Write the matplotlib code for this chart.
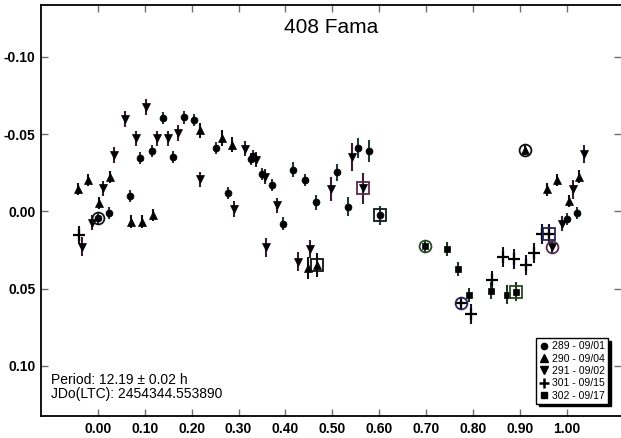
import matplotlib
matplotlib.use("Agg")
import matplotlib.pyplot as plt
from matplotlib.lines import Line2D

plt.rcParams['font.family'] = ['Liberation Sans', 'DejaVu Sans']

title = "408 Fama"
period_text = "Period: 12.19 \u00b1 0.02 h"
epoch_text = "JDo(LTC): 2454344.553890"

x_ticks = [0.0, 0.1, 0.2, 0.3, 0.4, 0.5, 0.6, 0.7, 0.8, 0.9, 1.0]
y_ticks = [-0.10, -0.05, 0.00, 0.05, 0.10]

session_labels = ["289 - 09/01", "290 - 09/04", "291 - 09/02", "301 - 09/15", "302 - 09/17"]

# session 289 (dots)
phase_289 = [0.000, 0.023, 0.068, 0.091, 0.115, 0.138, 0.160, 0.184, 0.206, 0.252,
             0.277, 0.327, 0.331, 0.349, 0.371, 0.395, 0.417, 0.442, 0.464, 0.510,
             0.534, 0.555, 0.579, 0.601, 0.999, 1.022]
mag_289 = [0.0045, 0.0013, -0.0099, -0.0343, -0.0392, -0.0602, -0.0350, -0.0608, -0.0591, -0.0408,
           -0.0120, -0.0339, -0.0358, -0.0241, -0.0170, 0.0080, -0.0270, -0.0203, -0.0058, -0.0252,
           -0.0030, -0.0412, -0.0392, 0.0027, 0.0052, 0.0011]
err_289 = [0.004, 0.004, 0.004, 0.004, 0.004, 0.004, 0.004, 0.004, 0.004, 0.004,
           0.004, 0.004, 0.004, 0.004, 0.004, 0.004, 0.005, 0.004, 0.005, 0.0055,
           0.006, 0.0065, 0.007, 0.006, 0.004, 0.004]

# session 290 (up triangles)
phase_290 = [-0.043, -0.021, 0.003, 0.026, 0.071, 0.094, 0.118, 0.217, 0.264, 0.286,
             0.447, 0.468, 0.911, 0.957, 0.979, 1.004, 1.026]
mag_290 = [-0.0144, -0.0203, -0.0052, -0.0220, 0.0067, 0.0067, 0.0024, -0.0524, -0.0474, -0.0431,
           0.0369, 0.0348, -0.0397, -0.0142, -0.0203, -0.0067, -0.0224]
err_290 = [0.004, 0.004, 0.004, 0.004, 0.004, 0.004, 0.004, 0.005, 0.005, 0.005,
           0.007, 0.008, 0.003, 0.004, 0.004, 0.004, 0.004]

# session 291 (down triangles)
phase_291 = [-0.034, -0.013, 0.012, 0.035, 0.057, 0.082, 0.103, 0.126, 0.150, 0.172,
             0.218, 0.291, 0.313, 0.337, 0.357, 0.381, 0.359, 0.427, 0.452, 0.497,
             0.542, 0.565, 0.968, 0.990, 1.013, 1.036]
mag_291 = [0.0229, 0.0074, -0.0148, -0.0364, -0.0597, -0.0472, -0.0675, -0.0472, -0.0472, -0.0507,
           -0.0207, -0.0015, -0.0405, -0.0335, -0.0225, -0.0038, 0.0234, 0.0326, 0.0244, -0.0144,
           -0.0353, -0.0149, 0.0231, 0.0080, -0.0142, -0.0371]
err_291 = [0.006, 0.005, 0.005, 0.005, 0.005, 0.005, 0.005, 0.005, 0.005, 0.005,
           0.005, 0.005, 0.005, 0.005, 0.005, 0.005, 0.006, 0.006, 0.006, 0.008,
           0.009, 0.010, 0.004, 0.005, 0.006, 0.006]

# session 301 (plus)
phase_301 = [-0.039, 0.773, 0.795, 0.840, 0.864, 0.887, 0.912, 0.929, 0.947, 0.961]
mag_301 = [0.0153, 0.0595, 0.0663, 0.0445, 0.0294, 0.0309, 0.0349, 0.0272, 0.0149, 0.0149]
err_301 = [0.006, 0.004, 0.0065, 0.006, 0.0065, 0.0065, 0.0065, 0.0065, 0.0065, 0.0065]

# session 302 (squares)
phase_302 = [0.698, 0.744, 0.768, 0.791, 0.838, 0.872, 0.891]
mag_302 = [0.0223, 0.0246, 0.0372, 0.0540, 0.0514, 0.0539, 0.0520]
err_302 = [0.004, 0.0045, 0.0045, 0.0045, 0.0055, 0.006, 0.006]

sessions = [
    # phase, mag, err, marker, size, bar colour, ring colour, circled idx, boxed idx
    (phase_289, mag_289, err_289, 'o', 5.0, '#1e3a3a', '#101818', 0, 23),
    (phase_290, mag_290, err_290, '^', 6.0, '#101010', '#101010', 12, 11),
    (phase_291, mag_291, err_291, 'v', 6.0, '#3a1a34', '#5a2a4c', 22, 21),
    (phase_301, mag_301, err_301, '+', 9.0, '#121226', '#26265a', 1, 9),
    (phase_302, mag_302, err_302, 's', 5.0, '#1e3a1e', '#244a24', 0, 6),
]

fig = plt.figure(figsize=(6.21, 4.38), dpi=100)
ax = fig.add_axes([0.066, 0.0502, 0.934, 0.9384])

for ph, mg, er, mk, ms, ecol, rcol, ic, ib in sessions:
    ax.errorbar(ph, mg, yerr=er, fmt=mk, color='black', ecolor=ecol,
                elinewidth=1.5, capsize=0, ms=ms, mew=1.6 if mk == '+' else 0.5,
                zorder=3)
    ax.plot(ph[ic], mg[ic], 'o', ms=8.5, mfc='none', mec=rcol, mew=1.3, zorder=4)
    ax.plot(ph[ib], mg[ib], 's', ms=8.5, mfc='none', mec=rcol, mew=1.3, zorder=4)

ax.set_xlim(-0.121, 1.115)
ax.set_ylim(0.1325, -0.1335)

ax.set_xticks(x_ticks)
ax.set_xticklabels([f"{v:.2f}" for v in x_ticks], fontweight='bold', fontsize=10)
ax.set_yticks(y_ticks)
ax.set_yticklabels([f"{v:.2f}" for v in y_ticks], fontweight='bold', fontsize=10)
ax.tick_params(axis='both', direction='in', length=5, width=1, color='#707070',
               top=True, right=True, pad=4)

for side in ('left', 'bottom', 'top'):
    ax.spines[side].set_linewidth(1.3)
ax.spines['right'].set_visible(False)

ax.text(0.5, 0.945, title, transform=ax.transAxes, ha='center', va='center', fontsize=15)
ax.text(0.018, 0.088, period_text, transform=ax.transAxes, ha='left', va='center', fontsize=10)
ax.text(0.018, 0.054, epoch_text, transform=ax.transAxes, ha='left', va='center', fontsize=10)

handles = [
    Line2D([], [], ls='none', marker='o', color='black', ms=4.5),
    Line2D([], [], ls='none', marker='^', color='black', ms=5.5),
    Line2D([], [], ls='none', marker='v', color='black', ms=5.5),
    Line2D([], [], ls='none', marker='+', color='black', ms=7, mew=1.8),
    Line2D([], [], ls='none', marker='s', color='black', ms=5),
]
leg = ax.legend(handles, session_labels, loc='lower right',
                bbox_to_anchor=(0.978, 0.03), fontsize=7.5, frameon=True,
                fancybox=False, shadow={'color': 'black', 'alpha': 1.0},
                handlelength=0.8, handletextpad=0.4, labelspacing=0.22,
                borderpad=0.3, borderaxespad=0.0)
leg.get_frame().set_edgecolor('black')
leg.get_frame().set_linewidth(1.0)

fig.savefig("out.png", dpi=100)
